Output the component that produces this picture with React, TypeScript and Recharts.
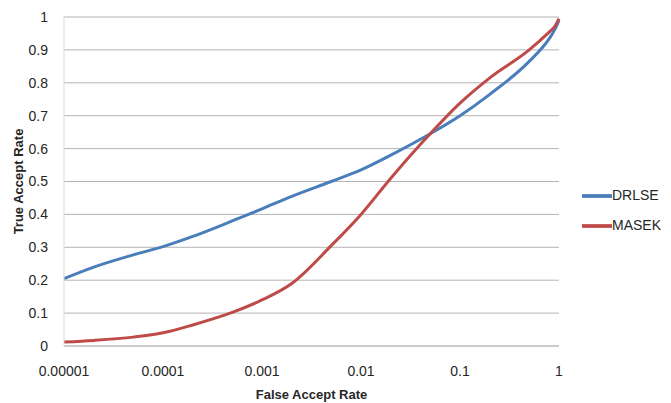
import { CartesianGrid, Legend, Line, LineChart, XAxis, YAxis } from 'recharts';

const falseAcceptRates = [
  0.00001, 0.00002, 0.00005, 0.0001, 0.0002, 0.0005, 0.001, 0.002, 0.005, 0.01, 0.02, 0.05, 0.1, 0.2,
  0.5, 0.8, 0.9, 1,
];
const drlse = [
  0.205, 0.24, 0.277, 0.302, 0.333, 0.38, 0.417, 0.455, 0.5, 0.535, 0.58, 0.645, 0.7, 0.765, 0.865, 0.935,
  0.96, 0.99,
];
const masek = [
  0.012, 0.017, 0.027, 0.04, 0.064, 0.102, 0.14, 0.19, 0.305, 0.4, 0.51, 0.645, 0.738, 0.815, 0.9, 0.955,
  0.97, 0.995,
];
const xTicks = [0.00001, 0.0001, 0.001, 0.01, 0.1, 1];
const xTickLabels = ['0.00001', '0.0001', '0.001', '0.01', '0.1', '1'];
const yTicks = [0, 0.1, 0.2, 0.3, 0.4, 0.5, 0.6, 0.7, 0.8, 0.9, 1];
const yTickLabels = ['0', '0.1', '0.2', '0.3', '0.4', '0.5', '0.6', '0.7', '0.8', '0.9', '1'];

const FONT = '"Liberation Sans Narrow", "Liberation Sans", Arial, sans-serif';
const TICK = { fill: '#262626', fontSize: 14, fontFamily: FONT };

export default function App() {
  const data = falseAcceptRates.map((far, i) => ({ far, drlse: drlse[i], masek: masek[i] }));

  return (
    <div style={{ position: 'absolute', left: 0, top: 0, width: 671, height: 403, background: '#fff' }}>
      <LineChart width={671} height={403} data={data} margin={{ top: 17, right: 22, left: 0, bottom: 0 }}>
        <CartesianGrid vertical={false} stroke="#b4b4b4" />
        <XAxis
          dataKey="far"
          type="number"
          scale="log"
          domain={[0.00001, 1]}
          ticks={xTicks}
          tickFormatter={(v: number) => xTickLabels[xTicks.indexOf(v)] ?? String(v)}
          axisLine={{ stroke: '#c8c8c8', strokeWidth: 1.5 }}
          tickLine={false}
          tick={TICK}
          tickMargin={14}
          height={57}
          label={{
            value: 'False Accept Rate',
            position: 'insideBottom',
            offset: 4,
            fill: '#262626',
            fontSize: 13,
            fontWeight: 'bold',
            fontFamily: FONT,
          }}
        />
        <YAxis
          type="number"
          domain={[0, 1]}
          ticks={yTicks}
          tickFormatter={(v: number) => yTickLabels[yTicks.indexOf(v)] ?? String(v)}
          axisLine={{ stroke: '#d9d9d9' }}
          tickLine={false}
          tick={TICK}
          tickMargin={10}
          width={64}
          label={{
            value: 'True Accept Rate',
            angle: -90,
            position: 'insideLeft',
            offset: 18,
            style: { textAnchor: 'middle' },
            fill: '#262626',
            fontSize: 13,
            fontWeight: 'bold',
            fontFamily: FONT,
          }}
        />
        <Legend
          layout="vertical"
          align="right"
          verticalAlign="top"
          iconType="plainline"
          iconSize={30}
          wrapperStyle={{ position: 'absolute', left: 582, top: 181, width: 90, fontFamily: FONT, fontSize: 14 }}
          formatter={(value: string) => <span style={{ color: '#262626', marginLeft: -4 }}>{value}</span>}
        />
        <Line
          name="DRLSE"
          type="monotone"
          dataKey="drlse"
          stroke="#4a7ebb"
          strokeWidth={3}
          dot={false}
          isAnimationActive={false}
        />
        <Line
          name="MASEK"
          type="monotone"
          dataKey="masek"
          stroke="#be4b48"
          strokeWidth={3}
          dot={false}
          isAnimationActive={false}
        />
      </LineChart>
    </div>
  );
}
